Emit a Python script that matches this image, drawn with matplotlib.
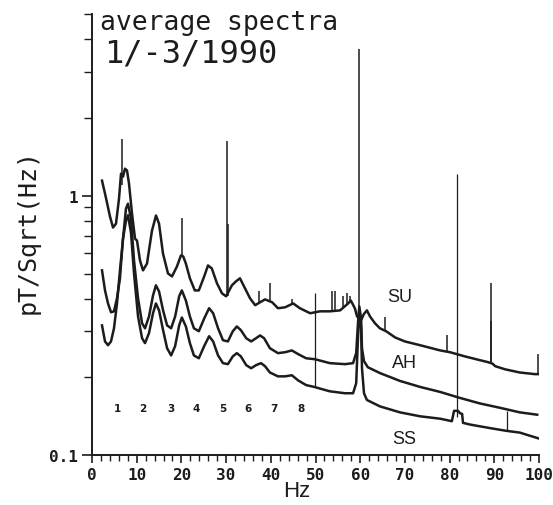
import matplotlib
matplotlib.use("Agg")
import matplotlib.pyplot as plt
import numpy as np
from matplotlib.ticker import FixedLocator, NullFormatter

# ---------------- data ----------------
su_hz = [2.24, 2.91, 4.03, 4.70, 5.37, 6.04, 6.49, 6.94, 7.38, 7.83, 8.28, 8.95, 9.62, 10.07,
         10.74, 11.41, 12.3, 13.42, 14.32, 14.99, 15.88, 17.0, 17.9, 19.0, 19.9, 20.4, 21.0,
         21.9, 23.0, 23.9, 25.1, 25.95, 26.8, 27.96, 29.08, 30.0, 31.3, 32.2, 33.1, 34.0,
         35.35, 36.5, 37.6, 38.7, 40.3, 41.6, 43.2, 45.0, 46.5, 48.8, 51.0, 53.2, 55.5, 57.3,
         57.9, 58.8, 59.3, 60.2, 60.8, 61.5, 62.2, 63.3, 64.4, 65.8, 67.8, 70.0, 73.4, 77.9,
         80.1, 83.4, 86.8, 88.6, 89.6, 90.2, 92.4, 95.7, 99.1, 99.8]
su_val = [1.142, 1.018, 0.830, 0.753, 0.780, 0.973, 1.215, 1.183, 1.27, 1.25, 1.112, 0.853,
          0.683, 0.67, 0.562, 0.515, 0.547, 0.733, 0.838, 0.78, 0.598, 0.501, 0.488, 0.533,
          0.588, 0.583, 0.547, 0.480, 0.431, 0.431, 0.488, 0.538, 0.524, 0.459, 0.42, 0.409,
          0.451, 0.467, 0.48, 0.447, 0.402, 0.378, 0.388, 0.398, 0.388, 0.368, 0.371, 0.384,
          0.368, 0.352, 0.358, 0.358, 0.361, 0.384, 0.394, 0.368, 0.342, 0.331, 0.349, 0.361,
          0.342, 0.322, 0.308, 0.300, 0.284, 0.274, 0.265, 0.253, 0.249, 0.240, 0.232, 0.228,
          0.225, 0.220, 0.214, 0.208, 0.205, 0.205]
su_spike_hz = [6.7, 20.1, 30.2, 30.45, 37.4, 39.8, 44.8, 53.7, 54.4, 56.2, 57.0, 57.7, 59.8,
               65.5, 79.4, 89.2, 89.35, 99.8]
su_spike_lo = [1.10, 0.58, 0.41, 0.41, 0.39, 0.39, 0.38, 0.358, 0.36, 0.37, 0.38, 0.39, 0.34,
               0.30, 0.25, 0.228, 0.228, 0.205]
su_spike_hi = [1.65, 0.82, 1.62, 0.78, 0.43, 0.46, 0.40, 0.43, 0.427, 0.412, 0.42, 0.412, 3.68,
               0.34, 0.29, 0.46, 0.33, 0.245]

ah_hz = [2.24, 2.91, 3.58, 4.25, 4.92, 5.59, 6.26, 6.4, 6.94, 7.6, 8.05, 8.72, 9.4, 10.3, 11.2,
         11.86, 12.75, 13.65, 14.3, 15.0, 15.9, 16.8, 17.7, 18.6, 19.5, 20.1, 21.0, 21.9, 22.8,
         23.9, 25.1, 26.2, 27.1, 28.2, 29.3, 30.4, 31.5, 32.4, 33.3, 34.5, 35.6, 36.7, 37.6,
         38.5, 39.8, 41.6, 43.2, 44.7, 46.1, 47.9, 49.9, 53.2, 56.6, 58.4, 59.1, 59.5, 59.8,
         60.2, 60.4, 60.85, 61.7, 64.4, 68.9, 73.4, 77.9, 82.3, 86.8, 91.3, 95.7, 99.6]
ah_val = [0.515, 0.431, 0.384, 0.355, 0.358, 0.402, 0.48, 0.52, 0.683, 0.891, 0.931, 0.816,
          0.562, 0.402, 0.322, 0.308, 0.342, 0.412, 0.451, 0.427, 0.361, 0.316, 0.308, 0.342,
          0.409, 0.431, 0.394, 0.342, 0.308, 0.30, 0.336, 0.368, 0.352, 0.308, 0.277, 0.274,
          0.30, 0.313, 0.303, 0.282, 0.274, 0.282, 0.289, 0.282, 0.258, 0.247, 0.249, 0.253,
          0.245, 0.236, 0.234, 0.226, 0.224, 0.226, 0.247, 0.322, 0.374, 0.336, 0.258, 0.230,
          0.218, 0.207, 0.193, 0.183, 0.175, 0.166, 0.158, 0.152, 0.146, 0.143]

ss_hz = [2.24, 2.91, 3.58, 4.25, 4.92, 5.59, 6.26, 6.94, 7.6, 8.05, 8.72, 9.4, 10.3, 11.2, 11.86,
         12.75, 13.65, 14.3, 15.0, 15.9, 16.8, 17.7, 18.6, 19.5, 20.1, 21.0, 21.9, 22.8, 23.9,
         25.1, 26.2, 27.1, 28.2, 29.3, 30.4, 31.5, 32.4, 33.3, 34.5, 35.6, 36.7, 37.8, 38.7,
         39.8, 41.6, 43.2, 44.7, 46.1, 47.9, 49.7, 53.2, 56.6, 58.4, 59.1, 59.5, 59.8, 60.2,
         60.4, 60.85, 61.5, 64.4, 68.9, 73.4, 77.9, 80.5, 81.0, 81.9, 82.3, 82.8, 83.0, 84.6,
         89.0, 92.6, 95.7, 99.8]
ss_val = [0.316, 0.274, 0.265, 0.274, 0.308, 0.384, 0.515, 0.683, 0.80, 0.84, 0.72, 0.501,
          0.342, 0.282, 0.27, 0.295, 0.352, 0.384, 0.361, 0.303, 0.258, 0.242, 0.263, 0.316,
          0.339, 0.313, 0.27, 0.242, 0.236, 0.263, 0.287, 0.274, 0.242, 0.226, 0.224, 0.240,
          0.247, 0.240, 0.222, 0.216, 0.222, 0.226, 0.220, 0.208, 0.201, 0.201, 0.203, 0.194,
          0.186, 0.183, 0.176, 0.173, 0.173, 0.189, 0.282, 0.361, 0.308, 0.216, 0.173, 0.163,
          0.154, 0.146, 0.141, 0.138, 0.135, 0.148, 0.148, 0.145, 0.144, 0.133, 0.131, 0.127,
          0.124, 0.122, 0.116]
ss_spike_hz = [49.9, 81.7, 92.8]
ss_spike_lo = [0.183, 0.14, 0.124]
ss_spike_hi = [0.42, 1.21, 0.148]

mode_hz = [5.6, 11.4, 17.7, 23.3, 29.3, 34.9, 40.7, 46.8]
mode_labels = ["1", "2", "3", "4", "5", "6", "7", "8"]
mode_level = 0.152

station_labels = ["SU", "AH", "SS"]
station_hz = [68.9, 70.0, 69.8]
station_val = [0.409, 0.228, 0.116]

x_major = [0, 10, 20, 30, 40, 50, 60, 70, 80, 90, 100]
x_labels = ["0", "10", "20", "30", "40", "50", "60", "70", "80", "90", "100"]
y_major = [0.1, 1]
y_labels = ["0.1", "1"]
y_minor = [0.2, 0.3, 0.4, 0.5, 0.6, 0.7, 0.8, 0.9, 2, 3, 4, 5]

title_line1 = "average spectra"
title_line2 = "1/-3/1990"
xlabel = "Hz"
ylabel = "pT/Sqrt(Hz)"

# ---------------- figure ----------------
W, H = 553, 506
fig = plt.figure(figsize=(W / 100, H / 100), dpi=100)
fig.patch.set_facecolor("white")
ax = fig.add_axes([92 / W, 1 - 456 / H, (539 - 92) / W, (456 - 15.3) / H])
ax.set_yscale("log")
ax.set_xlim(0, 100)
ax.set_ylim(0.1, 5)

ink = "#1c1c1c"
ax.plot(su_hz, su_val, color=ink, lw=1.8, solid_joinstyle="round")
ax.plot(ah_hz, ah_val, color=ink, lw=1.8, solid_joinstyle="round")
ax.plot(ss_hz, ss_val, color=ink, lw=1.8, solid_joinstyle="round")
ax.vlines(su_spike_hz, su_spike_lo, su_spike_hi, color=ink, lw=1.1)
ax.vlines(ss_spike_hz, ss_spike_lo, ss_spike_hi, color=ink, lw=0.9)

for h, lab in zip(mode_hz, mode_labels):
    ax.text(h, mode_level, lab, ha="center", va="center", fontsize=7.5,
            fontweight="bold", family="DejaVu Sans", color=ink)
for h, v, lab in zip(station_hz, station_val, station_labels):
    ax.text(h, v, lab, ha="center", va="center", fontsize=13,
            family="Liberation Sans", color=ink)

for s in ("top", "right"):
    ax.spines[s].set_visible(False)
for s in ("left", "bottom"):
    ax.spines[s].set_linewidth(1.4)
    ax.spines[s].set_color(ink)

ax.xaxis.set_major_locator(FixedLocator(x_major))
ax.set_xticklabels(x_labels)
ax.xaxis.set_minor_locator(FixedLocator(np.arange(0, 101, 2)))
ax.yaxis.set_major_locator(FixedLocator(y_major))
ax.set_yticklabels(y_labels)
ax.yaxis.set_minor_locator(FixedLocator(y_minor))
ax.yaxis.set_minor_formatter(NullFormatter())

ax.tick_params(axis="x", which="major", direction="out", length=6, width=1.2, pad=3,
               labelsize=11.5, colors=ink)
ax.tick_params(axis="x", which="minor", direction="out", length=4, width=1.0, colors=ink)
ax.tick_params(axis="y", which="major", direction="out", length=7, width=1.2, pad=3,
               labelsize=11.5, colors=ink)
ax.tick_params(axis="y", which="minor", direction="out", length=6, width=1.0, colors=ink)
for lab in ax.get_xticklabels() + ax.get_yticklabels():
    lab.set_family("DejaVu Sans Mono")
    lab.set_fontweight("bold")

fig.text(297 / W, 1 - 492 / H, xlabel, ha="center", va="center", fontsize=16,
         family="Liberation Sans", color=ink)
fig.text(28 / W, 1 - 232 / H, ylabel, ha="center", va="center", rotation=90,
         fontsize=18, family="DejaVu Sans Mono", color=ink)
fig.text(100 / W, 1 - 30 / H, title_line1, ha="left", va="baseline", fontsize=19,
         family="DejaVu Sans Mono", color=ink)
fig.text(104 / W, 1 - 62 / H, title_line2, ha="left", va="baseline", fontsize=23,
         family="DejaVu Sans Mono", color=ink)

fig.savefig("out.png", dpi=100, facecolor="white")
